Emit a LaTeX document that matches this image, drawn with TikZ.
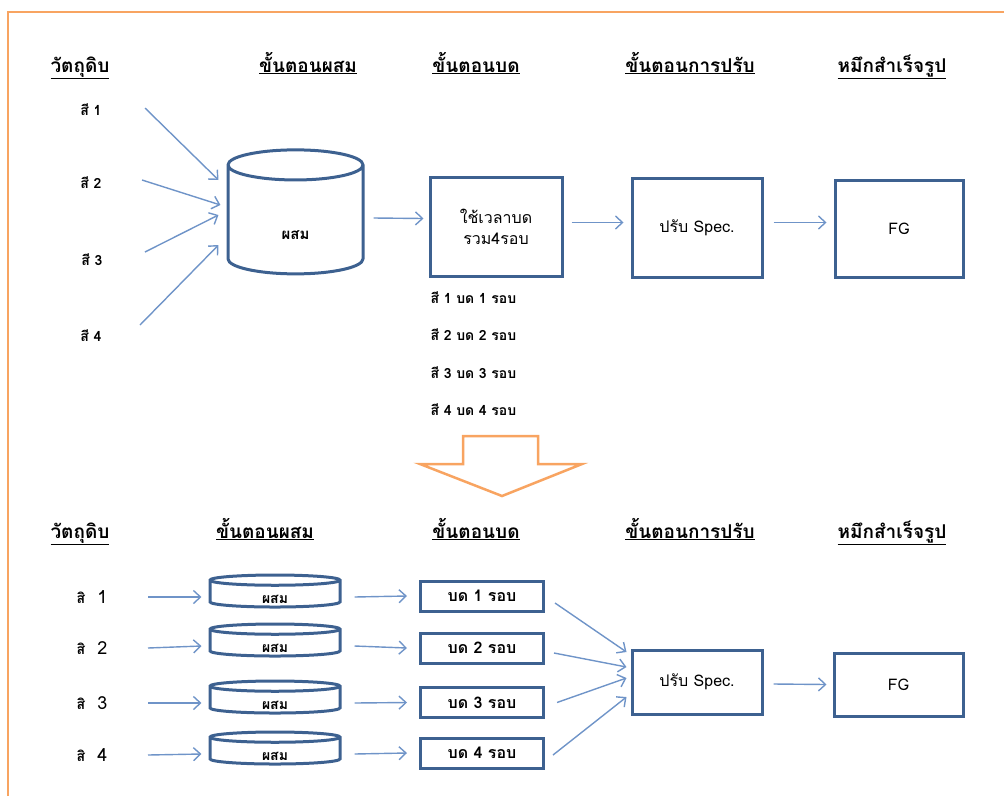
\documentclass[tikz,border=0pt]{standalone}
\usepackage{fontspec}
\setmainfont[Script=Thai]{Loma}
\usetikzlibrary{shapes.geometric,arrows.meta,calc}
\definecolor{boxblue}{HTML}{3D6190}
\definecolor{lineblue}{HTML}{6F94C8}
\definecolor{frameorange}{HTML}{F8A461}
\newcommand{\ulhead}[1]{\underline{#1}}

\begin{document}
\begin{tikzpicture}[x=1pt,y=-1pt,
  head/.style={font=\fontsize{19}{22}\selectfont\bfseries, anchor=base},
  lbl/.style={font=\fontsize{14}{16}\selectfont\bfseries},
  stepbox/.style={draw=boxblue, line width=3pt, inner sep=0pt, align=center, font=\fontsize{16}{21}\selectfont},
  tank/.style={cylinder, shape border rotate=90, draw=boxblue, line width=3pt, inner xsep=16pt, inner ysep=0pt},
  tanktext/.style={font=\fontsize{15}{17}\selectfont\bfseries},
  flow/.style={lineblue, line width=1.4pt, -{Straight Barb[length=7pt,width=13pt]}},
]
\useasboundingbox (0,0) rectangle (1004,796);

% frame
\draw[frameorange, line width=2pt] (8,796) -- (8,12) -- (1004,12);

% headings, top
\node[head] (h1) at (80,72) {\ulhead{วัตถุดิบ}};
\node[head] (h2) at (308,72) {\ulhead{ขั้นตอนผสม}};
\node[head] (h3) at (476,72) {\ulhead{ขั้นตอนบด}};
\node[head] (h4) at (690,72) {\ulhead{ขั้นตอนการปรับ}};
\node[head] (h5) at (892,72) {\ulhead{หมึกสำเร็จรูป}};

% colours, top
\node[lbl] (s1) at (91,110) {สี 1};
\node[lbl] (s2) at (91,183) {สี 2};
\node[lbl] (s3) at (92,260) {สี 3};
\node[lbl] (s4) at (91,336) {สี 4};

% mix
\node[tank, minimum width=135pt, minimum height=124pt, aspect=0.94,
  label={[tanktext, yshift=-10pt]center:ผสม}] (mix) at (295.5,225) {};

\draw[flow] ($(s1)+(54,-2)$) -- ($(mix.west)+(-8,-45)$);
\draw[flow] ($(s2)+(51,-3)$) -- ($(mix.west)+(-6,-20)$);
\draw[flow] ($(s3)+(53,-8)$) -- ($(mix.west)+(-8,-10)$);
\draw[flow] ($(s4)+(49,-11)$) -- ($(mix.west)+(-8,20)$);

% grind
\node[stepbox, minimum width=132pt, minimum height=99pt] (grind) at (496,226.5) {ใช้เวลาบด\\รวม4รอบ};
\draw[flow] ($(mix.east)+(9,-7)$) -- ($(grind.west)+(-5,-8)$);

\node[lbl, anchor=west] (n1) at (427,298) {สี 1 บด 1 รอบ};
\node[lbl, anchor=west] (n2) at (427,335) {สี 2 บด 2 รอบ};
\node[lbl, anchor=west] (n3) at (427,373) {สี 3 บด 3 รอบ};
\node[lbl, anchor=west] (n4) at (427,410) {สี 4 บด 4 รอบ};

% adjust, FG
\node[stepbox, minimum width=130pt, minimum height=99pt] (adj) at (697,227.5) {ปรับ Spec.};
\node[stepbox, minimum width=128pt, minimum height=97pt] (fg) at (899,228.5) {FG};
\draw[flow] ($(grind.east)+(8,-4)$) -- ($(adj.west)+(-7,-5)$);
\draw[flow] ($(adj.east)+(10,-5)$) -- ($(fg.west)+(-7,-6)$);

% big arrow
\draw[frameorange, line width=2.5pt, fill=white] (463,436) -- (538,436) -- (538,464) -- (582,464) -- (502,496) -- (420,464) -- (463,464) -- cycle;

% headings, bottom
\node[head] (k1) at (80,538) {\ulhead{วัตถุดิบ}};
\node[head] (k2) at (265,538) {\ulhead{ขั้นตอนผสม}};
\node[head] (k3) at (476,538) {\ulhead{ขั้นตอนบด}};
\node[head] (k4) at (690,538) {\ulhead{ขั้นตอนการปรับ}};
\node[head] (k5) at (892,538) {\ulhead{หมึกสำเร็จรูป}};

% colours, bottom
\foreach \i/\y/\cy/\gy in {1/597/596/596, 2/648/645/648, 3/703/702/702.5, 4/755/753/753}{
  \node[lbl] (t\i) at (92,\y) {สิ\hspace{12pt}{\fontsize{18}{20}\selectfont\mdseries\i}};
  \node[tank, minimum width=130pt, minimum height=32pt, aspect=0.32,
    label={[tanktext, font=\fontsize{14}{16}\selectfont\bfseries, yshift=-3pt]center:ผสม}] (c\i) at (275,\cy) {};
  \node[stepbox, minimum width=123pt, minimum height=30pt, font=\fontsize{16}{18}\selectfont\bfseries] (g\i) at (482,\gy) {บด \i\ รอบ};
  \draw[flow] ($(t\i)+(56,0)$) -- ($(c\i.west)+(-7,1)$);
  \draw[flow] ($(c\i.east)+(13,1)$) -- ($(g\i.west)+(-12,0)$);
}

% adjust, FG bottom
\node[stepbox, minimum width=130pt, minimum height=64pt] (adj2) at (697,682) {ปรับ Spec.};
\node[stepbox, minimum width=129pt, minimum height=63pt] (fg2) at (898.5,684.5) {FG};

\draw[flow] ($(g1.east)+(10,7)$) -- ($(adj2.west)+(-4,-30)$);
\draw[flow] ($(g2.east)+(9,5)$) -- ($(adj2.west)+(-4,-15)$);
\draw[flow] ($(g3.east)+(12,0)$) -- ($(adj2.west)+(-4,-4)$);
\draw[flow] ($(g4.east)+(8,2)$) -- ($(adj2.west)+(-4,15)$);
\draw[flow] ($(adj2.east)+(10,2)$) -- ($(fg2.west)+(-6,0)$);

\end{tikzpicture}
\end{document}
